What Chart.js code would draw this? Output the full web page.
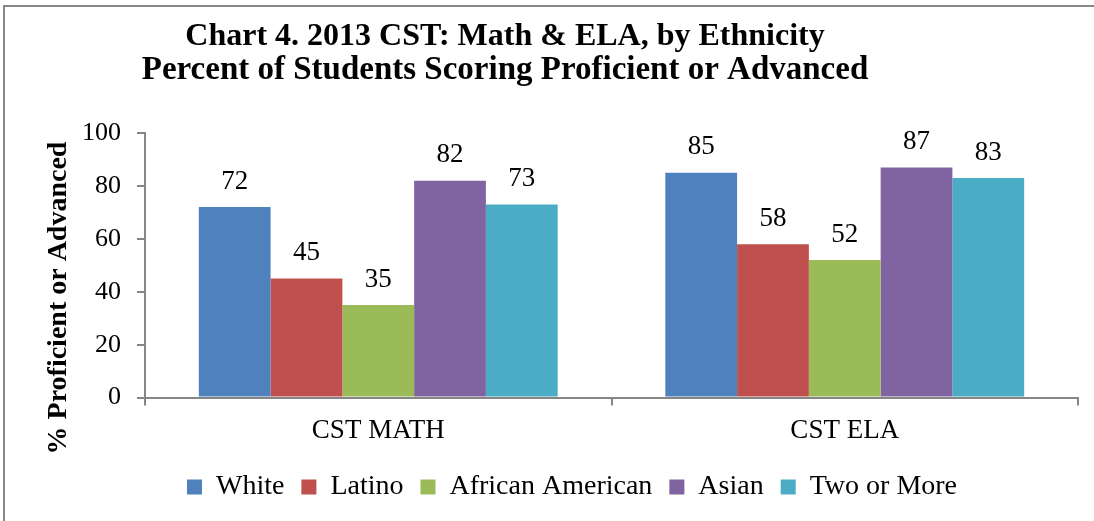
<!DOCTYPE html>
<html>
<head>
<meta charset="utf-8">
<script src="https://cdn.jsdelivr.net/npm/chart.js@4.4.0/dist/chart.umd.min.js"></script>
<style>
  html, body { margin: 0; padding: 0; background: #fff; }
  #wrap { position: relative; width: 1094px; height: 521px; overflow: hidden; }
  #frame { position: absolute; left: 3px; top: 5px; right: -10px; bottom: -10px;
           border-top: 2px solid #888; border-left: 2px solid #888; }
  #chart { position: absolute; left: 0; top: 0; }
</style>
</head>
<body>
<div id="wrap">
  <div id="frame"></div>
  <canvas id="chart" width="1094" height="521"></canvas>
</div>
<script>
const categories = ['CST MATH', 'CST ELA'];
const groups = ['White', 'Latino', 'African American', 'Asian', 'Two or More'];
const white = [72, 85];
const latino = [45, 58];
const africanAmerican = [35, 52];
const asian = [82, 87];
const twoOrMore = [73, 83];
const yTicks = [0, 20, 40, 60, 80, 100];
const titleLines = ['Chart 4. 2013 CST: Math & ELA, by Ethnicity',
                    'Percent of Students Scoring Proficient or Advanced'];
const yTitle = '% Proficient or Advanced';

const colors = ['#4F81BD', '#C0504D', '#9BBB59', '#8064A2', '#4BACC6'];
const series = [white, latino, africanAmerican, asian, twoOrMore];
const FONT = '"Liberation Serif", "DejaVu Serif", serif';
const axisColor = '#868686';

// value labels above bars + titles drawn by hand
const extras = {
    id: 'extras',
    afterDatasetsDraw(chart) {
        const ctx = chart.ctx;
        ctx.save();
        ctx.fillStyle = '#000';
        ctx.font = '27px ' + FONT;
        ctx.textAlign = 'center';
        ctx.textBaseline = 'bottom';
        chart.data.datasets.forEach((ds, i) => {
            chart.getDatasetMeta(i).data.forEach((bar, j) => {
                ctx.fillText(ds.data[j], bar.x, bar.y - 12);
            });
        });
        ctx.restore();
    },
    afterDraw(chart) {
        const ctx = chart.ctx;
        ctx.save();
        ctx.fillStyle = '#000';
        ctx.textAlign = 'center';
        ctx.textBaseline = 'alphabetic';
        ctx.font = 'bold 32px ' + FONT;
        ctx.fillText(titleLines[0], 505, 45);
        ctx.font = 'bold 33px ' + FONT;
        ctx.fillText(titleLines[1], 505, 79);
        ctx.translate(66, 298);
        ctx.rotate(-Math.PI / 2);
        ctx.font = 'bold 28px ' + FONT;
        ctx.fillText(yTitle, 0, 0);
        ctx.restore();
    }
};

new Chart(document.getElementById('chart'), {
    type: 'bar',
    data: {
        labels: categories,
        datasets: groups.map((g, i) => ({
            label: g,
            data: series[i],
            backgroundColor: colors[i],
            borderWidth: 0,
            barPercentage: 1,
            categoryPercentage: 1 / 1.3
        }))
    },
    options: {
        responsive: false,
        animation: false,
        layout: { padding: { left: 66, right: 16, top: 133, bottom: 10 } },
        plugins: {
            legend: {
                position: 'bottom',
                labels: {
                    font: { family: FONT, size: 28 },
                    color: '#000',
                    boxWidth: 15,
                    boxHeight: 15,
                    padding: 17
                }
            },
            tooltip: { enabled: false }
        },
        scales: {
            x: {
                grid: { display: true, offset: true, drawOnChartArea: false, tickLength: 8, color: axisColor, lineWidth: 2 },
                border: { color: axisColor, width: 2 },
                ticks: { font: { family: FONT, size: 27 }, color: '#000', padding: 9 }
            },
            y: {
                min: 0,
                max: 100,
                afterBuildTicks: axis => { axis.ticks = yTicks.map(v => ({ value: v })); },
                grid: { display: true, drawOnChartArea: false, tickLength: 8, color: axisColor, lineWidth: 2 },
                border: { color: axisColor, width: 2 },
                ticks: { font: { family: FONT, size: 26 }, color: '#000', padding: 16 }
            }
        }
    },
    plugins: [extras]
});
</script>
</body>
</html>
